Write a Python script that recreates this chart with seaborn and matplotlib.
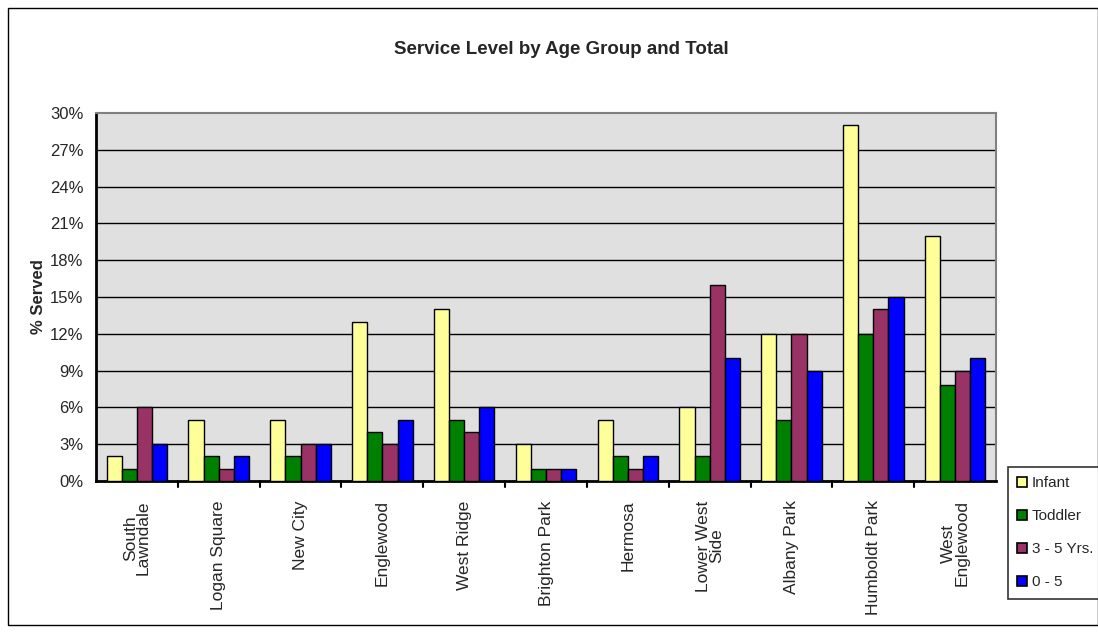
import matplotlib
matplotlib.use("Agg")
import matplotlib.pyplot as plt
import numpy as np
import pandas as pd
import seaborn as sns
from matplotlib.patches import Rectangle, Patch

areas = ["South\nLawndale", "Logan Square", "New City", "Englewood", "West Ridge",
         "Brighton Park", "Hermosa", "Lower West\nSide", "Albany Park",
         "Humboldt Park", "West\nEnglewood"]
infant = [2, 5, 5, 13, 14, 3, 5, 6, 12, 29, 20]
toddler = [1, 2, 2, 4, 5, 1, 2, 2, 5, 12, 7.8]
preschool = [6, 1, 3, 3, 4, 1, 1, 16, 12, 14, 9]
total = [3, 2, 3, 5, 6, 1, 2, 10, 9, 15, 10]
groups = ["Infant", "Toddler", "3 - 5 Yrs.", "0 - 5"]
colors = ["#FFFF99", "#008000", "#993366", "#0000FF"]

df = pd.DataFrame({"area": areas * 4,
                   "group": np.repeat(groups, len(areas)),
                   "value": infant + toddler + preschool + total})

sns.set_style("white")
plt.rcParams['font.family'] = ['Liberation Sans', 'DejaVu Sans']

fig = plt.figure(figsize=(10.98, 6.33), dpi=100)
ax = fig.add_axes([96/1098, 1 - 481/633, 900/1098, 368/633])
ax.set_facecolor("#E0E0E0")

sns.barplot(data=df, x="area", y="value", hue="group", hue_order=groups,
            palette=colors, edgecolor="black", linewidth=1, width=0.74,
            saturation=1, ax=ax, legend=False, zorder=3)

ax.set_ylim(0, 30)
ax.set_xlim(-0.5, len(areas) - 0.5)
yt = np.arange(0, 31, 3)
ax.set_yticks(yt)
ax.set_yticklabels([f"{v}%" for v in yt], fontsize=12)
for v in yt[1:-1]:
    ax.axhline(v, color="black", lw=1, zorder=1)

# category labels, rotated, with boundary ticks between groups
ax.set_xticks(np.arange(len(areas)))
ax.set_xticklabels(areas, rotation=90, fontsize=12.5, linespacing=0.85, va="top")
ax.tick_params(axis="x", length=0, pad=14)
for b in np.arange(0.5, len(areas) - 0.5, 1):
    ax.plot([b, b], [0, -0.5], color="black", lw=1.5, clip_on=False)
ax.tick_params(axis="y", length=4, width=1.5, direction="out", color="black", pad=5)

ax.set_xlabel("")
ax.set_ylabel("% Served", fontsize=12, fontweight="bold", labelpad=3)

for s in ["left", "bottom"]:
    ax.spines[s].set_color("black")
    ax.spines[s].set_linewidth(2)
for s in ["top", "right"]:
    ax.spines[s].set_color("#808080")
    ax.spines[s].set_linewidth(1.5)

fig.text(561/1098, 1 - 49/633, "Service Level by Age Group and Total",
         ha="center", va="center", fontsize=13.5, fontweight="bold")

handles = [Patch(facecolor=c, edgecolor="black", linewidth=1.2) for c in colors]
leg = fig.legend(handles, groups, loc="upper left",
                 bbox_to_anchor=(1008/1098, 1 - 467/633), fontsize=11,
                 frameon=True, fancybox=False, handlelength=0.65, handleheight=0.65,
                 handletextpad=0.3, labelspacing=1.25, borderpad=0.6,
                 borderaxespad=0)
leg.get_frame().set_edgecolor("black")
leg.get_frame().set_linewidth(1.2)

fig.patches.append(Rectangle((8/1098, 8/633), 1 - 8/1098, 1 - 16/633,
                             transform=fig.transFigure, fill=False,
                             edgecolor="black", linewidth=1))

fig.savefig("out.png", dpi=100)
